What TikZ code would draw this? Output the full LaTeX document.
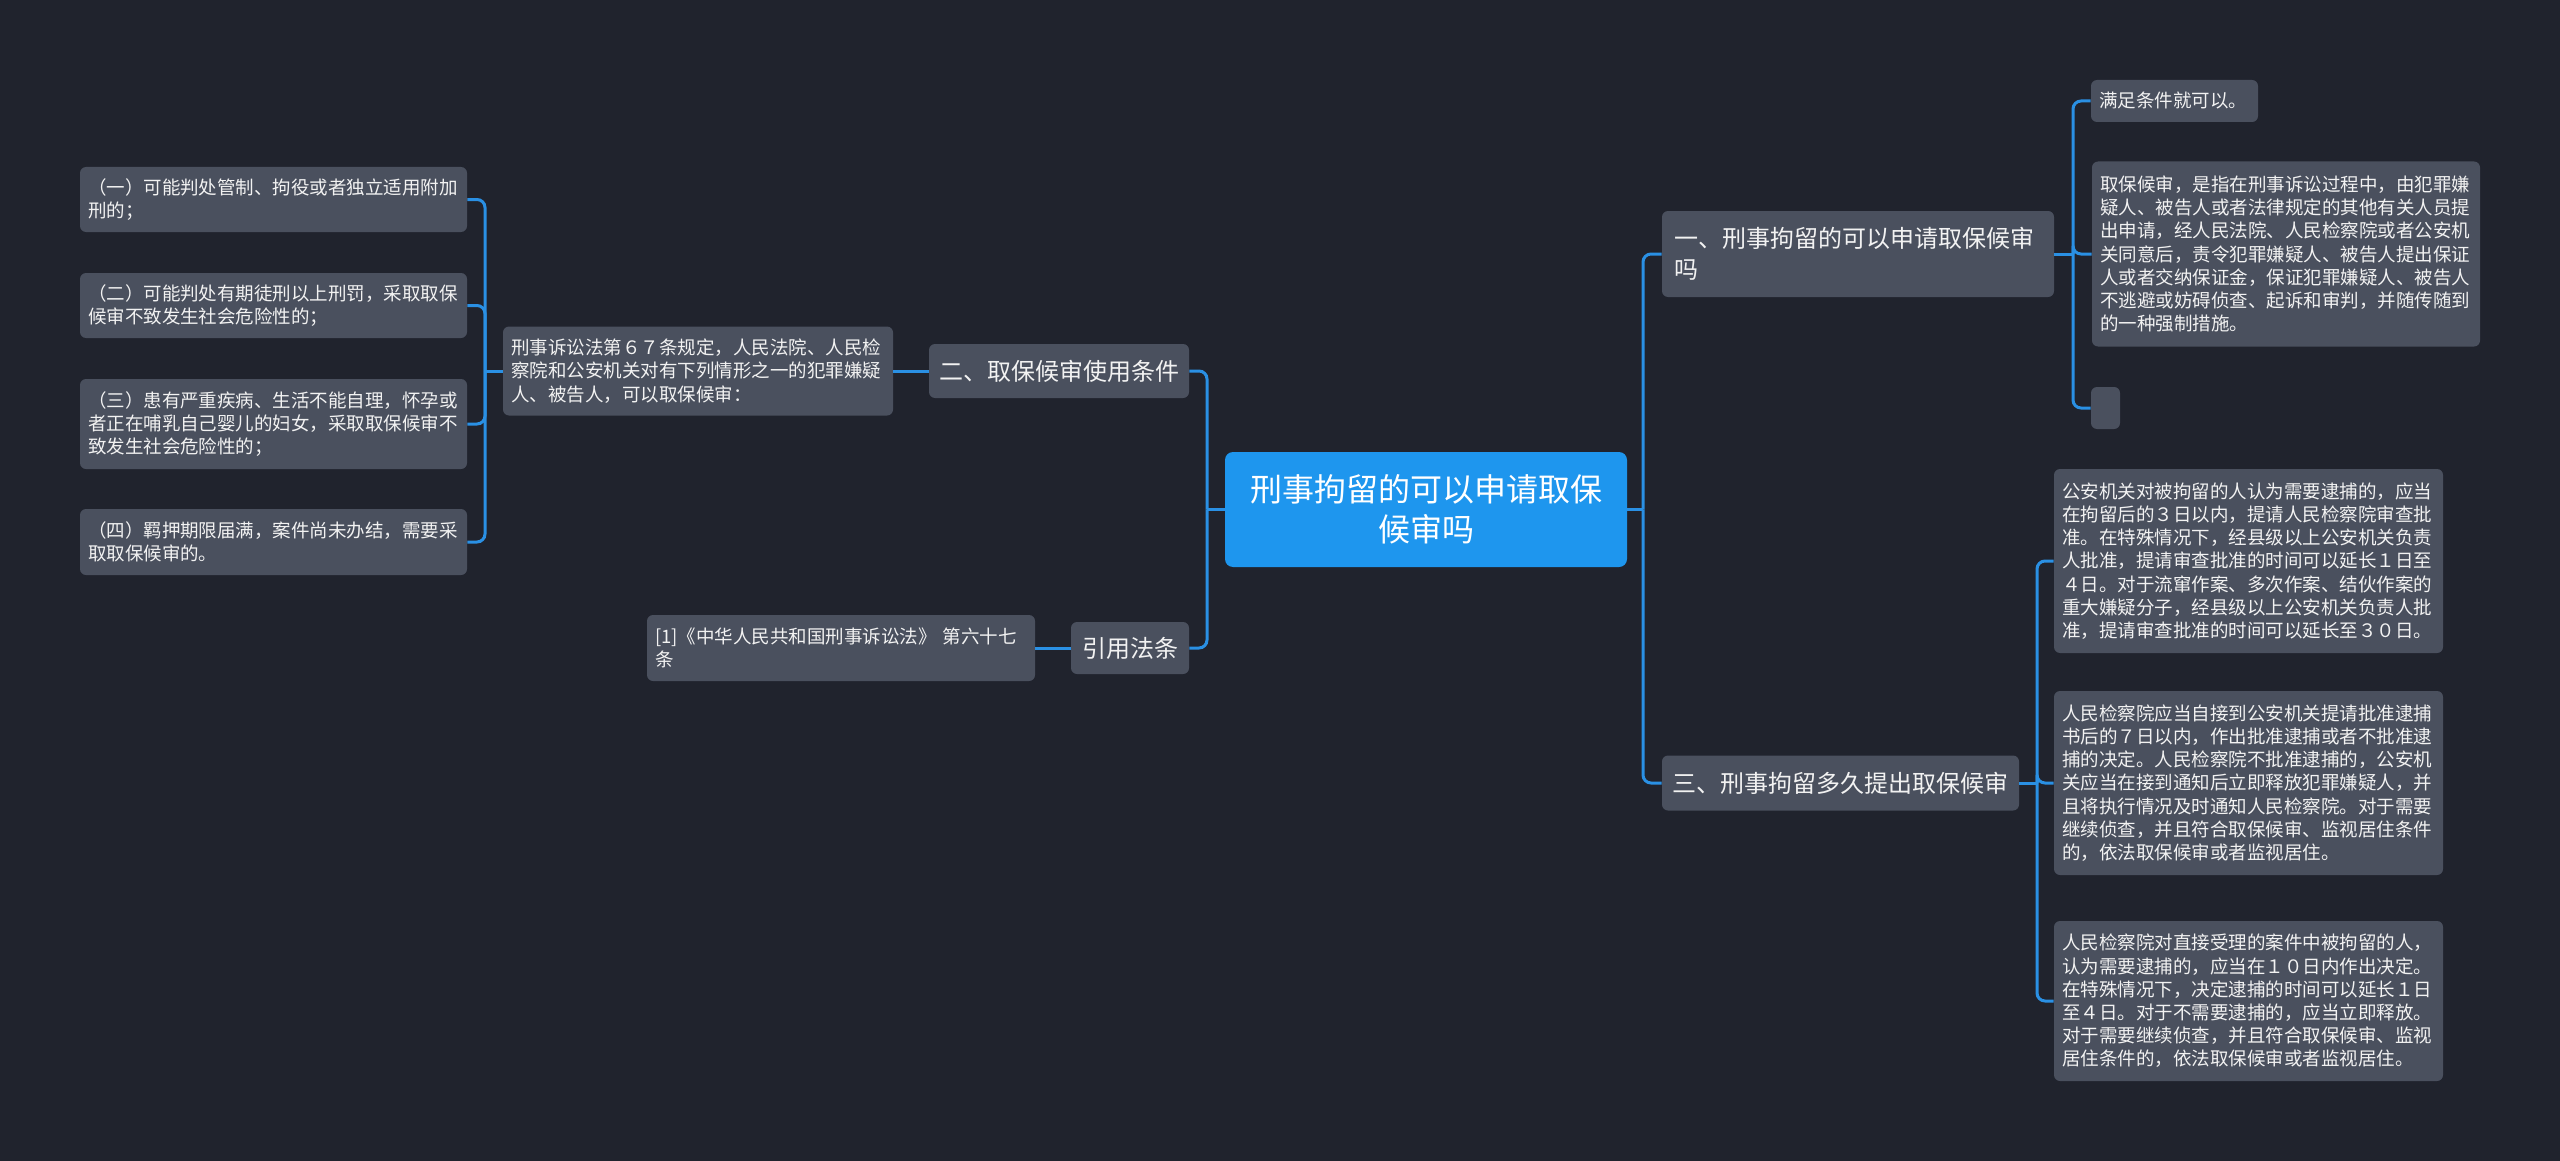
\documentclass[tikz,border=0pt]{standalone}
\usepackage{fontspec}
\setmainfont{Noto Sans CJK SC}
\usepackage{tikz}
\usetikzlibrary{calc}
\tikzset{>=latex}

\definecolor{bgcol}{HTML}{20232D}
\definecolor{boxcol}{HTML}{4A505E}
\definecolor{rootcol}{HTML}{1E96EE}
\definecolor{linkcol}{HTML}{2A90E4}

\newcommand{\leaffont}{\fontsize{9.25pt}{11.6pt}\selectfont}
\newcommand{\branchfont}{\fontsize{12pt}{15.5pt}\selectfont}
\newcommand{\rootfont}{\fontsize{16pt}{20pt}\selectfont}

\tikzset{
  box/.style={fill=boxcol, rounded corners=3pt, text=white!95!black, inner ysep=0pt},
  leaf/.style={box, font=\leaffont, inner xsep=4pt, align=left, text width=#1},
  branch/.style={box, font=\branchfont, inner xsep=5pt, align=center},
  link/.style={draw=linkcol, line width=1.5pt, rounded corners=4pt},
}

\begin{document}
\begin{tikzpicture}[x=0.5pt,y=-0.5pt]
  \fill[bgcol] (0,0) rectangle (2560,1161);

  \node[fill=rootcol, rounded corners=4pt, text=white, font=\rootfont, align=center,
        minimum width=201pt, minimum height=57.5pt, inner sep=0pt] (root) at (1426,509.5)
        {刑事拘留的可以申请取保\\候审吗};

  \node[branch, align=left, text width=184pt, inner xsep=6pt, minimum height=43pt] (b1) at (1858,254)
        {一、刑事拘留的可以申请取保候审\\吗};
  \node[branch, minimum width=130pt, minimum height=27pt] (b2) at (1059,371) {二、取保候审使用条件};
  \node[branch, minimum width=178.5pt, minimum height=27.5pt] (b3) at (1840.5,783) {三、刑事拘留多久提出取保候审};
  \node[branch, minimum width=59pt, minimum height=26pt] (b4) at (1130,648) {引用法条};

  \node[leaf=187pt, minimum height=44.5pt] (mid) at (698,371)
        {刑事诉讼法第６７条规定，人民法院、人民检\\察院和公安机关对有下列情形之一的犯罪嫌疑\\人、被告人，可以取保候审：};
  \node[leaf=186pt, minimum height=33pt] (ref) at (841,648)
        {[1]《中华人民共和国刑事诉讼法》 第六十七\\条};

  \node[leaf=185.5pt, minimum height=32.5pt] (l1) at (273.5,199.5)
        {（一）可能判处管制、拘役或者独立适用附加\\刑的；};
  \node[leaf=185.5pt, minimum height=32.5pt] (l2) at (273.5,305.5)
        {（二）可能判处有期徒刑以上刑罚，采取取保\\候审不致发生社会危险性的；};
  \node[leaf=185.5pt, minimum height=45pt] (l3) at (273.5,424)
        {（三）患有严重疾病、生活不能自理，怀孕或\\者正在哺乳自己婴儿的妇女，采取取保候审不\\致发生社会危险性的；};
  \node[leaf=185.5pt, minimum height=33pt] (l4) at (273.5,542)
        {（四）羁押期限届满，案件尚未办结，需要采\\取取保候审的。};

  \node[leaf=75.5pt, minimum height=21pt] (r1) at (2174.5,101) {满足条件就可以。};
  \node[leaf=186pt, minimum height=92.5pt] (r2) at (2286,254)
        {取保候审，是指在刑事诉讼过程中，由犯罪嫌\\疑人、被告人或者法律规定的其他有关人员提\\出申请，经人民法院、人民检察院或者公安机\\关同意后，责令犯罪嫌疑人、被告人提出保证\\人或者交纳保证金，保证犯罪嫌疑人、被告人\\不逃避或妨碍侦查、起诉和审判，并随传随到\\的一种强制措施。};
  \node[box, minimum width=14.5pt, minimum height=21pt, inner sep=0pt] (r3) at (2105.5,408) {};

  \node[leaf=186.5pt, minimum height=92pt] (r4) at (2248.5,561)
        {公安机关对被拘留的人认为需要逮捕的，应当\\在拘留后的３日以内，提请人民检察院审查批\\准。在特殊情况下，经县级以上公安机关负责\\人批准，提请审查批准的时间可以延长１日至\\４日。对于流窜作案、多次作案、结伙作案的\\重大嫌疑分子，经县级以上公安机关负责人批\\准，提请审查批准的时间可以延长至３０日。};
  \node[leaf=186.5pt, minimum height=92pt] (r5) at (2248.5,783)
        {人民检察院应当自接到公安机关提请批准逮捕\\书后的７日以内，作出批准逮捕或者不批准逮\\捕的决定。人民检察院不批准逮捕的，公安机\\关应当在接到通知后立即释放犯罪嫌疑人，并\\且将执行情况及时通知人民检察院。对于需要\\继续侦查，并且符合取保候审、监视居住条件\\的，依法取保候审或者监视居住。};
  \node[leaf=186.5pt, minimum height=80pt] (r6) at (2248.5,1001)
        {人民检察院对直接受理的案件中被拘留的人，\\认为需要逮捕的，应当在１０日内作出决定。\\在特殊情况下，决定逮捕的时间可以延长１日\\至４日。对于不需要逮捕的，应当立即释放。\\对于需要继续侦查，并且符合取保候审、监视\\居住条件的，依法取保候审或者监视居住。};

  \coordinate (jr) at (1643,509.5);
  \coordinate (jl) at (1207,509.5);
  \coordinate (jm) at (485,371);
  \coordinate (j1) at (2073,254);
  \coordinate (j3) at (2037,783);

  \draw[link] (root.east) -- (jr);
  \draw[link] (jr) |- (b1.west);
  \draw[link] (jr) |- (b3.west);
  \draw[link] (root.west) -- (jl);
  \draw[link] (jl) |- (b2.east);
  \draw[link] (jl) |- (b4.east);
  \draw[link] (b2.west) -- (mid.east);
  \draw[link] (b4.west) -- (ref.east);
  \draw[link] (mid.west) -- (jm);
  \foreach \n in {l1,l2,l3,l4}
    \draw[link] (jm) |- (\n.east);
  \draw[link] (b1.east) -- (j1);
  \foreach \n in {r1,r2,r3}
    \draw[link] (j1) |- (\n.west);
  \draw[link] (b3.east) -- (j3);
  \foreach \n in {r4,r5,r6}
    \draw[link] (j3) |- (\n.west);
\end{tikzpicture}
\end{document}
